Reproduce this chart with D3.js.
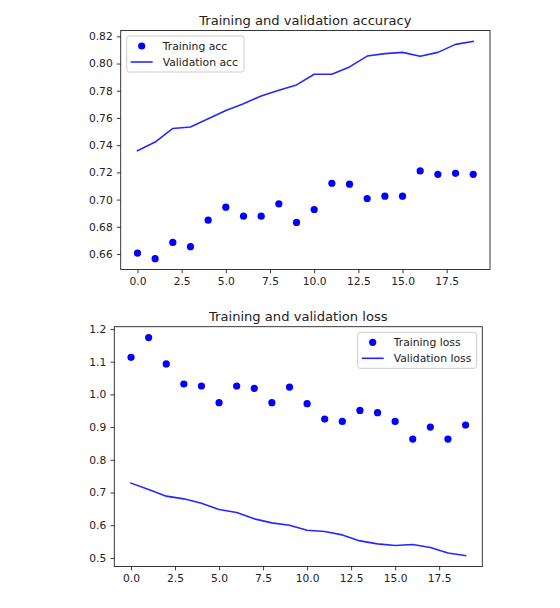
<!DOCTYPE html>
<html><head><meta charset="utf-8">
<script src="https://cdn.jsdelivr.net/npm/d3@7"></script>
<style>html,body{margin:0;padding:0;background:#fff;}svg{display:block;}</style>
</head><body>
<script>
const epochs = d3.range(20);
const trainAcc = [0.6607,0.6566,0.6685,0.6654,0.6849,0.6944,0.6878,0.6878,0.6969,0.6832,0.6927,0.7120,0.7113,0.7008,0.7025,0.7025,0.7211,0.7186,0.7193,0.7186];
const valAcc = [0.7359,0.7423,0.7523,0.7533,0.7594,0.7655,0.7704,0.7762,0.7804,0.7843,0.7921,0.7921,0.7975,0.8055,0.8073,0.8082,0.8053,0.8082,0.8141,0.8163];
const trainLoss = [1.1133,1.1735,1.0929,1.0316,1.0255,0.9745,1.0255,1.0184,0.9745,1.0224,0.9714,0.9245,0.9173,0.9510,0.9439,0.9173,0.8633,0.9000,0.8633,0.9061];
const valLoss = [0.7286,0.7092,0.6888,0.6806,0.6673,0.6480,0.6388,0.6194,0.6071,0.6000,0.5847,0.5806,0.5704,0.5520,0.5429,0.5378,0.5408,0.5316,0.5153,0.5071];
const xTicks = [0, 2.5, 5, 7.5, 10, 12.5, 15, 17.5];
const accTicks = [0.66,0.68,0.70,0.72,0.74,0.76,0.78,0.80,0.82];
const lossTicks = [0.5,0.6,0.7,0.8,0.9,1.0,1.1,1.2];
const titles = ["Training and validation accuracy", "Training and validation loss"];
const legendAcc = ["Training acc", "Validation acc"];
const legendLoss = ["Training loss", "Validation loss"];

const W = 560, H = 608;
const FONT = "DejaVu Sans, sans-serif";
const svg = d3.select("body").append("svg").attr("width", W).attr("height", H);

function panel(cfg) {
  const {left, right, top, bottom, train, val, yTicks, yFmt, title, legend, legendPos} = cfg;
  const all = train.concat(val);
  const yMin = d3.min(all), yMax = d3.max(all), m = (yMax - yMin) * 0.05;
  const x = d3.scaleLinear().domain([-0.95, 19.95]).range([left, right]);
  const y = d3.scaleLinear().domain([yMin - m, yMax + m]).range([bottom, top]);
  const g = svg.append("g");

  const xa = g.append("g").attr("transform", `translate(0,${bottom})`)
    .call(d3.axisBottom(x).tickValues(xTicks).tickFormat(d3.format(".1f")).tickSize(3.8).tickPadding(3.8).tickSizeOuter(0));
  const ya = g.append("g").attr("transform", `translate(${left},0)`)
    .call(d3.axisLeft(y).tickValues(yTicks).tickFormat(d3.format(yFmt)).tickSize(3.8).tickPadding(4.2).tickSizeOuter(0));
  [xa, ya].forEach(a => {
    a.select(".domain").remove();
    a.selectAll("text").attr("font-family", FONT).attr("font-size", 10.7).attr("fill", "#222");
    a.selectAll("line").attr("stroke", "#222").attr("stroke-width", 0.9);
  });

  // spines
  g.append("rect").attr("x", left).attr("y", top).attr("width", right - left).attr("height", bottom - top)
    .attr("fill", "none").attr("stroke", "#222").attr("stroke-width", 0.9);

  g.append("text").attr("x", (left + right) / 2).attr("y", top - 6)
    .attr("text-anchor", "middle").attr("font-family", FONT).attr("font-size", 13.1).attr("fill", "#222")
    .text(title);

  const clip = "clip" + Math.round(top);
  svg.append("clipPath").attr("id", clip).append("rect")
    .attr("x", left).attr("y", top).attr("width", right - left).attr("height", bottom - top);
  const plot = g.append("g").attr("clip-path", `url(#${clip})`);

  plot.append("path").datum(val)
    .attr("d", d3.line().x((d, i) => x(epochs[i])).y(d => y(d)))
    .attr("fill", "none").attr("stroke", "#0000ff").attr("stroke-width", 1.6).attr("stroke-opacity", 0.85)
    .attr("stroke-linejoin", "round").attr("stroke-linecap", "square");

  plot.selectAll("circle").data(train).enter().append("circle")
    .attr("cx", (d, i) => x(epochs[i])).attr("cy", d => y(d)).attr("r", 3.6).attr("fill", "#0000ff");

  // legend
  const [lx, ly, lw, lh] = legendPos;
  const lg = g.append("g");
  lg.append("rect").attr("x", lx).attr("y", ly).attr("width", lw).attr("height", lh).attr("rx", 2.5)
    .attr("fill", "#fff").attr("fill-opacity", 0.8).attr("stroke", "#ccc").attr("stroke-width", 1);
  const r1 = ly + 10, r2 = ly + 26;
  lg.append("circle").attr("cx", lx + 15).attr("cy", r1).attr("r", 3.6).attr("fill", "#0000ff");
  lg.append("line").attr("x1", lx + 4).attr("x2", lx + 26).attr("y1", r2).attr("y2", r2)
    .attr("stroke", "#0000ff").attr("stroke-width", 1.6).attr("stroke-opacity", 0.85);
  lg.selectAll("text.leg").data(legend).enter().append("text").attr("class", "leg")
    .attr("x", lx + 36).attr("y", (d, i) => (i ? r2 : r1)).attr("dy", "0.35em")
    .attr("font-family", FONT).attr("font-size", 10.8).attr("fill", "#222").text(d => d);
}

panel({left: 120.7, right: 490, top: 30.5, bottom: 269.5, train: trainAcc, val: valAcc,
  yTicks: accTicks, yFmt: ".2f", title: titles[0], legend: legendAcc, legendPos: [126.7, 36, 117.3, 36]});
panel({left: 114.3, right: 482.3, top: 326.7, bottom: 566.5, train: trainLoss, val: valLoss,
  yTicks: lossTicks, yFmt: ".1f", title: titles[1], legend: legendLoss, legendPos: [357.7, 332.3, 119, 36]});
</script>
</body></html>
